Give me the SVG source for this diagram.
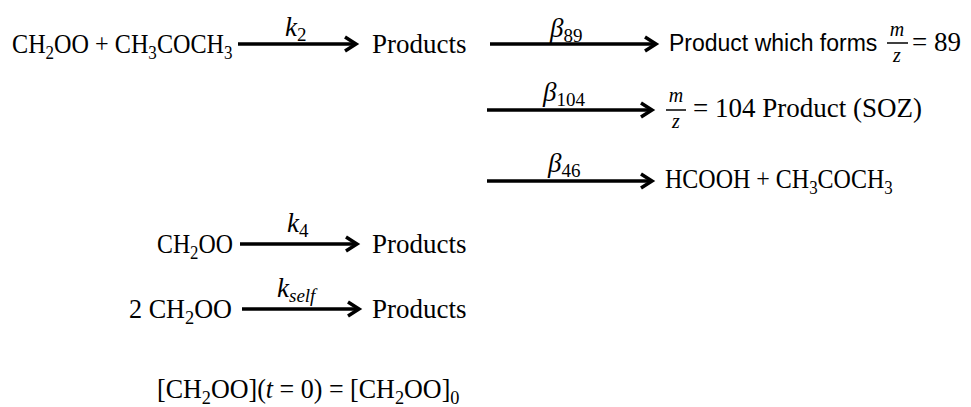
<svg xmlns="http://www.w3.org/2000/svg" width="971" height="407" viewBox="0 0 971 407">
<style>
.m{font-family:"Liberation Serif","Times New Roman",serif;font-size:27px;fill:#000}
.i{font-style:italic}
.sub{font-size:19px}
.s{font-family:"Liberation Sans",Arial,sans-serif;font-size:23px;fill:#000}
.fr{font-family:"Liberation Serif",serif;font-style:italic;font-size:20px;fill:#000}
.ln{stroke:#000;stroke-width:3.5;fill:none}
.bar{stroke:#000;stroke-width:1.5}
</style>
<defs>
<marker id="ah" markerUnits="userSpaceOnUse" markerWidth="20" markerHeight="20" refX="13" refY="8" orient="auto" viewBox="0 0 20 16">
<path d="M2,1 L13,8 L2,15" fill="none" stroke="#000" stroke-width="3.5"/>
</marker>
</defs>
<g id="connectors">
<line class="ln" x1="238" y1="44" x2="356" y2="44" marker-end="url(#ah)"/>
<line class="ln" x1="490" y1="44" x2="656" y2="44" marker-end="url(#ah)"/>
<line class="ln" x1="487" y1="110" x2="652" y2="110" marker-end="url(#ah)"/>
<line class="ln" x1="487" y1="181" x2="652" y2="181" marker-end="url(#ah)"/>
<line class="ln" x1="240" y1="244" x2="357" y2="244" marker-end="url(#ah)"/>
<line class="ln" x1="242" y1="309" x2="359" y2="309" marker-end="url(#ah)"/>
<text class="m i" x="285" y="36">k<tspan class="sub" dy="5" font-style="normal">2</tspan></text>
<text class="m i" x="550" y="37">β<tspan class="sub" dy="5" font-style="normal">89</tspan></text>
<text class="m i" x="543" y="101">β<tspan class="sub" dy="5" font-style="normal">104</tspan></text>
<text class="m i" x="548" y="172">β<tspan class="sub" dy="5" font-style="normal">46</tspan></text>
<text class="m i" x="287" y="232">k<tspan class="sub" dy="5" font-style="normal">4</tspan></text>
<text class="m i" x="277" y="297">k<tspan class="sub" dy="5">self</tspan></text>
</g>
<g id="reactants1" transform="translate(12,53) scale(0.896,1)">
<text class="m" x="0" y="0">CH<tspan class="sub" dy="6">2</tspan><tspan dy="-6">OO + CH</tspan><tspan class="sub" dy="6">3</tspan><tspan dy="-6">COCH</tspan><tspan class="sub" dy="6">3</tspan></text>
</g>
<g id="products1">
<text class="m" x="372" y="53">Products</text>
</g>
<g id="product89">
<text class="s" x="669" y="51">Product which forms</text>
<text class="fr" x="897" y="36" text-anchor="middle">m</text>
<line class="bar" x1="887" y1="43" x2="908" y2="43"/>
<text class="fr" x="897" y="62" text-anchor="middle">z</text>
<text class="m" x="912" y="51">= 89</text>
</g>
<g id="product104">
<text class="fr" x="676" y="102" text-anchor="middle">m</text>
<line class="bar" x1="666" y1="110" x2="686" y2="110"/>
<text class="fr" x="676" y="128" text-anchor="middle">z</text>
<text class="m" x="693" y="117">= 104 Product (SOZ)</text>
</g>
<g id="product46" transform="translate(665,188) scale(0.889,1)">
<text class="m" x="0" y="0">HCOOH + CH<tspan class="sub" dy="6">3</tspan><tspan dy="-6">COCH</tspan><tspan class="sub" dy="6">3</tspan></text>
</g>
<g id="reactant4" transform="translate(157,253) scale(0.883,1)">
<text class="m" x="0" y="0">CH<tspan class="sub" dy="6">2</tspan><tspan dy="-6">OO</tspan></text>
</g>
<g id="products4">
<text class="m" x="372" y="253">Products</text>
</g>
<g id="reactantself" transform="translate(129,318) scale(0.97,1)">
<text class="m" x="0" y="0">2 CH<tspan class="sub" dy="6">2</tspan><tspan dy="-6">OO</tspan></text>
</g>
<g id="productsself">
<text class="m" x="372" y="318">Products</text>
</g>
<g id="initial" transform="translate(157,398) scale(0.964,1)">
<text class="m" x="0" y="0">[CH<tspan class="sub" dy="6">2</tspan><tspan dy="-6">OO](</tspan><tspan class="i">t</tspan> = 0) = [CH<tspan class="sub" dy="6">2</tspan><tspan dy="-6">OO]</tspan><tspan class="sub" dy="6">0</tspan></text>
</g>
</svg>
